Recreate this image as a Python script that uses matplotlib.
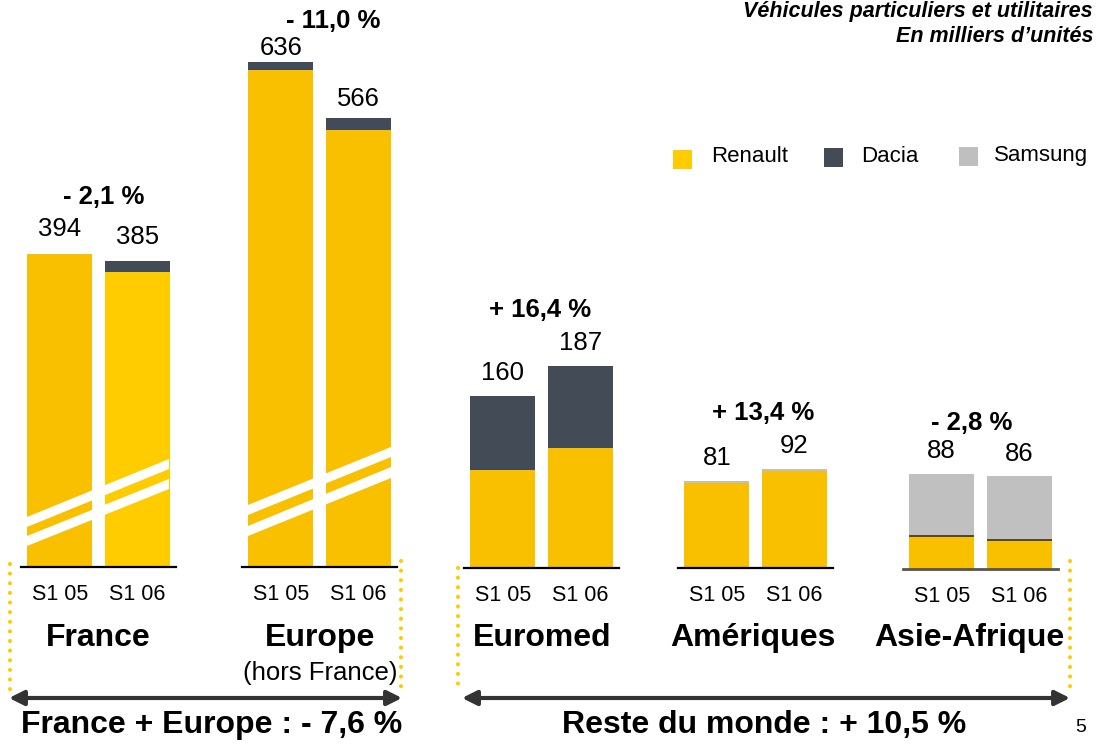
import matplotlib
matplotlib.use('Agg')
import matplotlib.pyplot as plt
from matplotlib.patches import Polygon, Rectangle

plt.rcParams['font.family'] = ['Liberation Sans', 'DejaVu Sans']

# donnees (milliers d'unites)
groups = ['France', 'Europe', 'Euromed', 'Amériques', 'Asie-Afrique']
periods = ['S1 05', 'S1 06']
renault = [[394, 372], [626, 550], [91, 111], [79, 90], [31, 27]]
dacia = [[0, 13], [10, 16], [69, 76], [0, 0], [0, 0]]
samsung = [[0, 0], [0, 0], [0, 0], [2, 2], [57, 59]]
totals = [[394, 385], [636, 566], [160, 187], [81, 92], [88, 86]]
changes = ['- 2,1 %', '- 11,0 %', '+ 16,4 %', '+ 13,4 %', '- 2,8 %']

W, H = 1097, 746
fig = plt.figure(figsize=(W / 100, H / 100), dpi=100)

# mise en page (pixels)
px_per_unit = [0.794, 0.794, 1.078, 1.078, 1.078]
left_px = [21, 242, 464, 678, 903]
base_px = [567, 567, 568, 568, 569]
label_gap = [[25, 24], [14, 19], [23, 23], [23, 23], [23, 22]]
ren_colors = [['#F9C000', '#FFCC00'], ['#F9C000', '#F9C000'], ['#F9C000', '#F9C000'],
              ['#F9C000', '#F9C000'], ['#F9C000', '#F9C000']]
c_dacia = '#424B56'
c_samsung = '#C0C0C0'

for g in range(len(groups)):
    ax = fig.add_axes([left_px[g] / W, (H - base_px[g]) / H, 155 / W, base_px[g] / H])
    ax.patch.set_visible(False)
    ax.set_xlim(-0.5, 1.5)
    ax.set_ylim(0, base_px[g] / px_per_unit[g])
    x = [0, 1]
    bot2 = [renault[g][i] + dacia[g][i] for i in x]
    ax.bar(x, renault[g], width=0.845, color=ren_colors[g], linewidth=0)
    ax.bar(x, dacia[g], bottom=renault[g], width=0.845, color=c_dacia, linewidth=0)
    ax.bar(x, samsung[g], bottom=bot2, width=0.845, color=c_samsung, linewidth=0)
    if g == 4:
        for i in x:
            ax.hlines(renault[g][i], i - 0.4225, i + 0.4225, color='#333333', lw=1.2)
    for s in ['top', 'left', 'right']:
        ax.spines[s].set_visible(False)
    ax.spines['bottom'].set_linewidth(2 if g == 4 else 1.6)
    ax.spines['bottom'].set_color('#555555' if g == 4 else 'black')
    ax.set_yticks([])
    ax.set_xticks(x, periods, fontsize=15.5)
    ax.tick_params(axis='x', length=0, pad=12)
    for i in x:
        ax.annotate(str(totals[g][i]), (i, totals[g][i]), xytext=(0, label_gap[g][i] * 0.72),
                    textcoords='offset points', ha='center', va='center', fontsize=18.5)

# calque de decoration en pixels
ov = fig.add_axes([0, 0, 1, 1], zorder=5)
ov.set_xlim(0, W)
ov.set_ylim(H, 0)
ov.axis('off')

# bandes blanches (axe coupe)
stripes = [
    [(27, 517), (169, 459), (169, 469), (27, 527)],
    [(27, 536), (169, 479), (169, 489), (27, 546)],
    [(248, 505), (391, 447), (391, 457), (248, 515)],
    [(248, 526), (391, 467), (391, 478), (248, 536)],
]
for p in stripes:
    ov.add_patch(Polygon(p, closed=True, facecolor='white', edgecolor='none'))

# variations
pct_pos = [(104, 197), (333, 21), (540, 310), (763, 413), (972, 423)]
for txt, (px, py) in zip(changes, pct_pos):
    ov.text(px, py, txt, ha='center', va='center', fontsize=18.5, fontweight='bold')

# noms des zones
name_pos = [(98, 638), (320, 638), (542, 638), (753, 638), (969, 638)]
for txt, (px, py) in zip(groups, name_pos):
    ov.text(px, py, txt, ha='center', va='center', fontsize=23, fontweight='bold')
ov.text(320, 673, '(hors France)', ha='center', va='center', fontsize=18.5)

# pointilles jaunes
for xd, y0 in [(10, 564), (401, 561), (458, 568), (1070, 561)]:
    ov.plot([xd, xd], [y0, 690], color='#FFCC00', lw=3, linestyle=(0, (0.01, 2.3)),
            dash_capstyle='round')

# fleches
for xa, xb in [(9, 402), (462, 1070)]:
    ov.annotate('', xy=(xb, 698), xytext=(xa, 698),
                arrowprops=dict(arrowstyle='<|-|>', lw=3, color='#333333',
                                mutation_scale=22, shrinkA=0, shrinkB=0))
ov.text(212, 725, 'France + Europe : - 7,6 %', ha='center', va='center', fontsize=23, fontweight='bold')
ov.text(764, 725, 'Reste du monde : + 10,5 %', ha='center', va='center', fontsize=23, fontweight='bold')
ov.text(1081, 727, '5', ha='center', va='center', fontsize=14)

# legende
leg = [('Renault', '#FFCC00', 673, 150, 711), ('Dacia', '#434B55', 824, 148, 861),
       ('Samsung', '#BFBFBF', 959, 147, 994)]
for name, col, sx, sy, tx in leg:
    ov.add_patch(Rectangle((sx, sy), 19, 19, facecolor=col, edgecolor='none'))
    ov.text(tx, 156, name, ha='left', va='center', fontsize=16)

# titre
ov.text(1093, 17, 'Véhicules particuliers et utilitaires', ha='right', va='baseline',
        fontsize=15.5, fontweight='bold', style='italic')
ov.text(1093, 42, 'En milliers d\u2019unités', ha='right', va='baseline',
        fontsize=15.5, fontweight='bold', style='italic')

fig.savefig('out.png', dpi=100)
